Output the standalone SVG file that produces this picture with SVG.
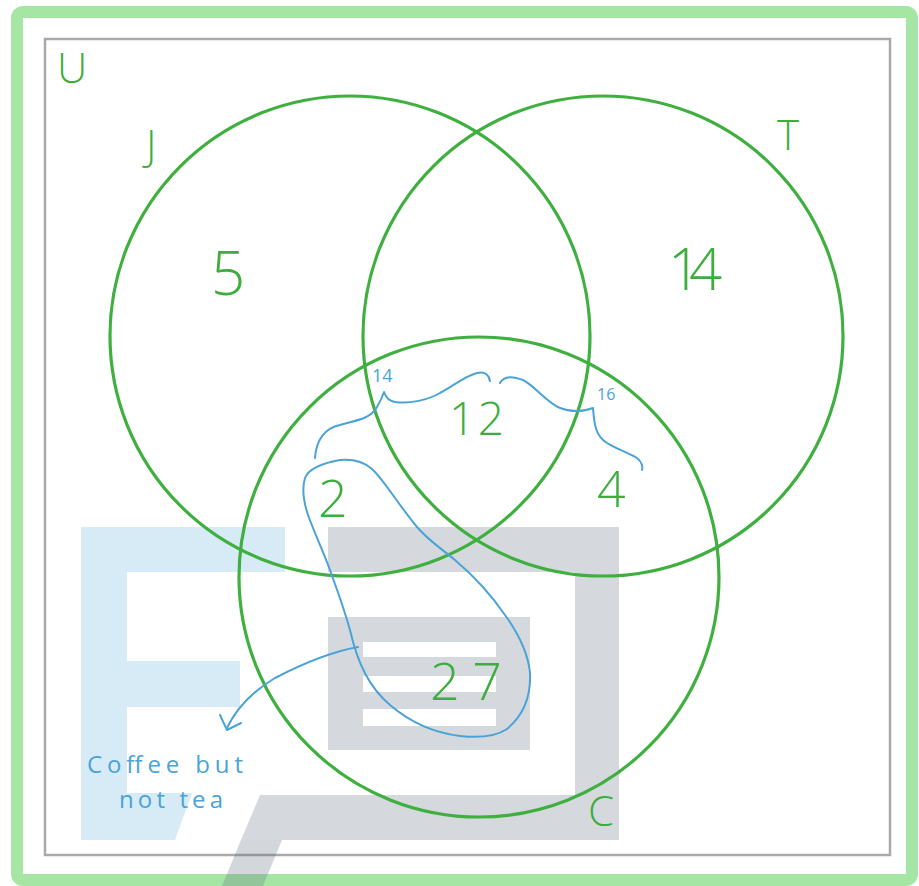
<svg xmlns="http://www.w3.org/2000/svg" width="919" height="886" viewBox="0 0 919 886">
  <defs>
    <style>
      .set { fill: none; stroke: #3fb03f; stroke-width: 3.2; }
      .num { font-family: "Open Sans", "Liberation Sans", sans-serif; font-weight: 300; fill: #3dae3d; }
      .note { fill: none; stroke: #4aa3d6; stroke-width: 2; stroke-linecap: round; stroke-linejoin: round; }
      .ntext { font-family: "Open Sans", "Liberation Sans", sans-serif; font-weight: 400; fill: #4aa3d6; }
      .wm-blue { fill: #d6ebf5; }
      .wm-gray { fill: #d5d9de; }
    </style>
  </defs>

  <rect x="0" y="0" width="919" height="886" fill="#ffffff"/>

  <!-- watermark -->
  <g id="watermark">
    <path class="wm-blue" d="M81,527 H285 V572 H127 V661 H240 V707 H127 V793 H192 L175,840 H81 Z"/>
    <path class="wm-gray" d="M328,527 H619 V840 H241 L260,795 H575 V572 H328 Z"/>
    <path class="wm-gray" d="M328,617 H530 V750 H328 Z M363,642 V657 H496 V642 Z M363,676 V692 H496 V676 Z M363,709 V726 H496 V709 Z" fill-rule="evenodd"/>
  </g>

  <!-- frame -->
  <g id="frame">
    <rect x="17" y="12" width="895" height="868" rx="6" fill="none" stroke="#a6e6a4" stroke-width="12"/>
    <rect x="45" y="39" width="845" height="816" fill="none" stroke="#a9a9a9" stroke-width="2.5"/>
    <text class="num" x="57" y="83" font-size="42">U</text>
  </g>
  <path id="watermark-stripe" d="M241,840 L282,840 L263,886 L222,886 Z" fill="#5d6d7c" opacity="0.27"/>

  <!-- sets -->
  <g id="set-J">
    <circle class="set" cx="350" cy="336" r="240"/>
    <text class="num" x="146" y="160" font-size="42">J</text>
  </g>
  <g id="set-T">
    <circle class="set" cx="603" cy="336" r="240"/>
    <text class="num" x="777" y="150" font-size="42">T</text>
  </g>
  <g id="set-C">
    <circle class="set" cx="479" cy="577" r="240"/>
    <text class="num" x="588" y="826" font-size="42">C</text>
  </g>

  <!-- region values -->
  <g id="regions">
    <text class="num" x="211" y="295" font-size="60">5</text>
    <text class="num" x="668" y="290" font-size="58" textLength="54" lengthAdjust="spacing">14</text>
    <text class="num" x="449" y="435" font-size="46" textLength="55" lengthAdjust="spacing">12</text>
    <text class="num" x="318" y="517" font-size="52">2</text>
    <text class="num" x="597" y="507" font-size="50">4</text>
    <text class="num" x="430" y="700" font-size="52" textLength="72" lengthAdjust="spacing">27</text>
  </g>

  <!-- annotations -->
  <g id="connectors">
    <path class="note" d="M315,458 C316,440 325,428 340,425 C352,421 370,420 377,407 C381,400 383,395 384,392 C386,398 389,401 395,402 C410,404 428,400 440,393 C455,385 465,376 477,373 C485,371 489,375 490,381"/>
    <path class="note" d="M500,383 C503,377 510,375 523,380 C535,386 547,403 560,408 C570,412 583,412 593,408 C594,418 594,432 603,440 C612,448 628,452 637,458 C642,462 643,467 642,470"/>
    <path class="note" d="M340,460 C352,459 364,462 372,469 C384,480 395,500 417,527 C430,542 442,549 455,560 C475,577 492,596 505,615 C518,633 528,652 530,673 C531,695 524,715 507,729 C495,737 478,738 460,736 C435,733 410,722 390,705 C370,688 358,665 350,630 C343,605 337,590 330,570 C322,548 314,532 308,515 C303,500 302,488 305,478 C308,470 318,464 340,460 Z"/>
    <path class="note" d="M358,647 C330,652 300,665 275,678 C255,690 238,705 227,728"/>
    <path class="note" d="M220,715 L227,730 L241,723"/>
    <text class="ntext" x="372" y="382" font-size="18">14</text>
    <text class="ntext" x="597" y="400" font-size="16">16</text>
    <text class="ntext" x="87" y="773" font-size="24" textLength="156" lengthAdjust="spacing">Coffee but</text>
    <text class="ntext" x="119" y="808" font-size="24" textLength="104" lengthAdjust="spacing">not tea</text>
  </g>
</svg>
